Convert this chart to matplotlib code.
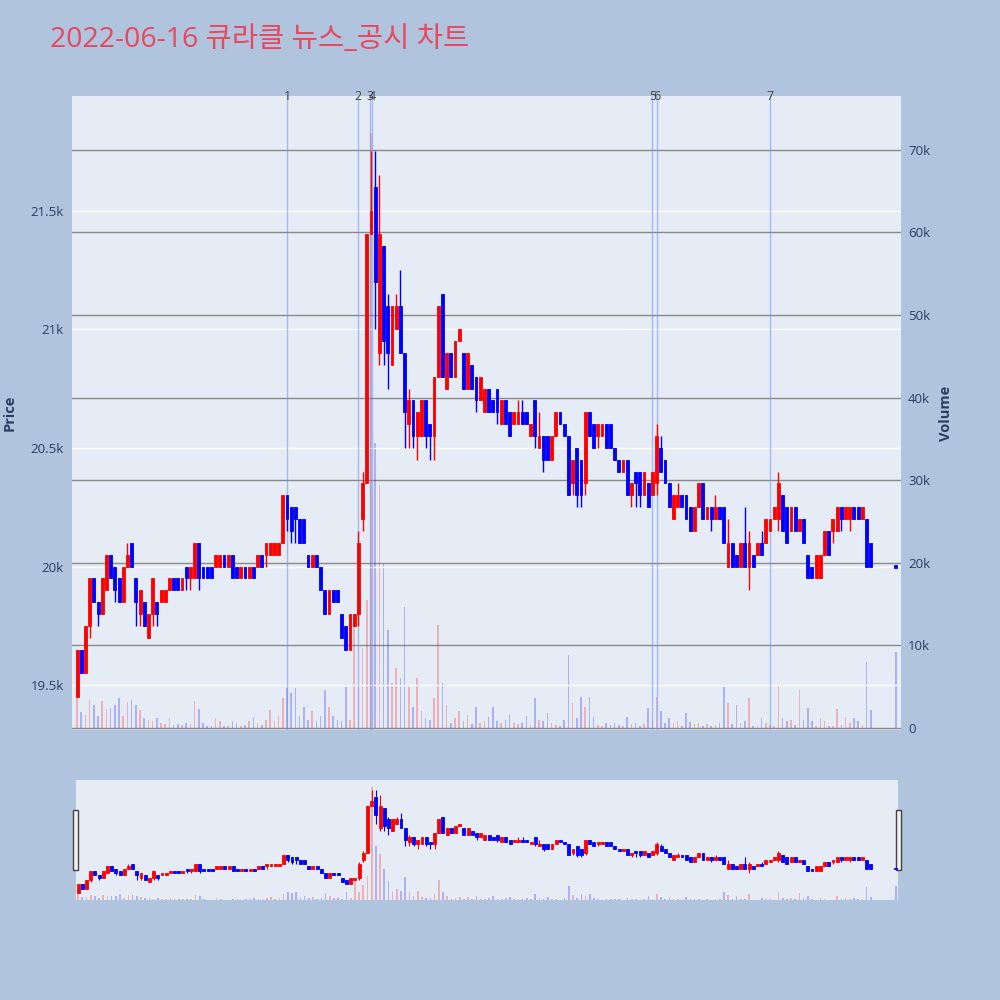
import numpy as np
import matplotlib.pyplot as plt
from matplotlib.patches import Rectangle
import matplotlib.transforms as mtransforms

plt.rcParams['font.family'] = ['Open Sans', 'Noto Sans CJK KR', 'DejaVu Sans']

title = "2022-06-16 큐라클 뉴스_공시 차트"

# minutes after 09:00 : one candle per 2 minutes, plus the 15:30 closing auction
minutes = list(range(0, 380, 2)) + [390]

opens = [
    19450, 19650, 19550, 19750, 19950, 19850, 19800, 19900, 20050, 20000,
    19950, 19850, 20000, 20100, 19950, 19800, 19850, 19700, 19800, 19850,
    19850, 19850, 19900, 19950, 19950, 19900, 20000, 19950, 19950, 20100,
    20000, 20000, 20000, 20000, 20000, 20050, 20000, 20050, 20000, 19950,
    20000, 19950, 20000, 20000, 20050, 20050, 20050, 20050, 20050, 20100,
    20300, 20250, 20250, 20200, 20200, 20050, 20000, 20050, 20000, 19900,
    19800, 19900, 19900, 19800, 19750, 19650, 19750, 19800, 20200, 20350,
    21400, 21600, 20900, 21350, 21100, 20850, 21000, 21100, 20900, 20600,
    20700, 20550, 20550, 20700, 20600, 20550, 20800, 21150, 20750, 20900,
    20800, 20950, 20900, 20750, 20850, 20800, 20700, 20650, 20750, 20700,
    20750, 20600, 20700, 20650, 20600, 20600, 20650, 20650, 20550, 20700,
    20500, 20550, 20550, 20450, 20550, 20650, 20600, 20550, 20350, 20500,
    20450, 20350, 20650, 20600, 20550, 20550, 20600, 20600, 20500, 20450,
    20400, 20450, 20300, 20400, 20400, 20300, 20350, 20300, 20350, 20500,
    20450, 20350, 20200, 20250, 20300, 20300, 20250, 20150, 20250, 20350,
    20200, 20250, 20200, 20250, 20250, 20000, 20100, 20050, 20000, 20100,
    20000, 20050, 20050, 20100, 20100, 20150, 20200, 20200, 20300, 20250,
    20150, 20250, 20150, 20200, 20050, 20000, 19950, 19950, 20050, 20150,
    20150, 20150, 20250, 20200, 20200, 20250, 20250, 20200, 20200, 20100,
    20000,
]

closes = [
    19650, 19550, 19750, 19950, 19850, 19800, 19950, 20050, 19950, 19900,
    19850, 20000, 20050, 20000, 19850, 19900, 19750, 19800, 19950, 19800,
    19900, 19900, 19950, 19900, 19900, 19950, 19950, 20000, 20100, 19950,
    19950, 19950, 19950, 20050, 20050, 20000, 20050, 19950, 19950, 20000,
    19950, 20000, 19950, 20050, 20000, 20100, 20100, 20100, 20100, 20300,
    20200, 20150, 20200, 20100, 20100, 20000, 20050, 20000, 19900, 19800,
    19900, 19850, 19850, 19700, 19650, 19800, 19800, 20100, 20350, 21400,
    21500, 21200, 21400, 20950, 20900, 21100, 21100, 20900, 20650, 20700,
    20550, 20650, 20700, 20550, 20550, 20800, 21100, 20800, 20900, 20800,
    20950, 21000, 20750, 20900, 20750, 20700, 20800, 20750, 20650, 20650,
    20650, 20700, 20600, 20550, 20650, 20650, 20600, 20600, 20600, 20550,
    20550, 20450, 20450, 20550, 20650, 20600, 20550, 20300, 20450, 20300,
    20300, 20650, 20550, 20500, 20600, 20600, 20500, 20500, 20450, 20400,
    20450, 20300, 20350, 20350, 20300, 20400, 20250, 20400, 20550, 20400,
    20350, 20250, 20300, 20300, 20250, 20200, 20150, 20250, 20350, 20200,
    20250, 20200, 20250, 20200, 20100, 20100, 20000, 20000, 20100, 20000,
    20100, 20000, 20100, 20050, 20200, 20200, 20250, 20350, 20150, 20100,
    20250, 20150, 20200, 20100, 19950, 19950, 20050, 20050, 20150, 20050,
    20200, 20250, 20200, 20250, 20250, 20200, 20200, 20250, 20000, 20000,
    20000,
]

# wick extremes (candle index -> price) where the wick sticks out of the body
highs = {12: 20100, 67: 20150, 68: 20400, 70: 21750, 71: 21750, 72: 21650,
         74: 21150, 76: 21150, 77: 21250, 79: 20750, 105: 20700, 106: 20700,
         110: 20650, 138: 20600, 139: 20550, 143: 20350, 152: 20300,
         155: 20200, 159: 20250, 160: 20150, 163: 20150, 167: 20400}
lows = {0: 19450, 3: 19700, 5: 19750, 9: 19850, 14: 19750, 15: 19750,
        18: 19750, 19: 19750, 26: 19900, 27: 19900, 29: 19900, 45: 20000,
        50: 20150, 51: 20100, 52: 20100, 67: 19750, 68: 20150, 71: 21000,
        72: 20850, 73: 20850, 74: 20750, 78: 20500, 79: 20500, 80: 20500,
        81: 20450, 83: 20500, 84: 20450, 85: 20450, 95: 20650, 100: 20600,
        109: 20500, 111: 20400, 118: 20300, 119: 20250, 120: 20250,
        121: 20300, 124: 20500, 132: 20250, 133: 20250, 134: 20250,
        138: 20300, 151: 20150, 160: 19900, 167: 20150, 180: 20100,
        182: 20150, 184: 20150}

# traded volume per candle, thousands of shares
volume_k = [
    3.6, 1.9, 1.6, 3.4, 2.8, 1.5, 3.3, 2.3, 2.4, 2.8,
    3.6, 1.5, 3.2, 3.4, 2.8, 2.2, 1.2, 1.0, 0.8, 1.2,
    0.6, 0.5, 1.2, 0.4, 0.5, 0.4, 0.6, 0.5, 3.3, 2.3,
    0.6, 0.2, 0.3, 1.2, 0.8, 0.3, 0.2, 0.9, 0.6, 0.3,
    0.4, 0.8, 1.3, 0.6, 0.4, 1.0, 2.2, 0.8, 1.5, 3.6,
    4.8, 4.2, 4.8, 1.5, 2.5, 1.0, 2.0, 0.8, 1.5, 4.6,
    2.5, 1.5, 1.0, 0.8, 5.0, 1.0, 12.5, 5.0, 9.7, 15.5,
    72.0, 34.5, 29.4, 20.0, 11.9, 5.5, 7.3, 6.0, 14.6, 5.0,
    2.5, 6.0, 2.0, 1.2, 1.0, 3.6, 12.5, 5.4, 2.8, 0.6,
    1.2, 2.0, 0.8, 1.6, 0.5, 2.5, 0.6, 0.8, 1.3, 2.6,
    0.8, 0.6, 1.0, 1.6, 0.6, 0.5, 0.6, 1.4, 0.4, 3.6,
    1.0, 0.8, 1.8, 0.6, 0.4, 0.3, 1.0, 8.8, 3.0, 1.2,
    3.7, 2.5, 3.7, 1.3, 0.4, 0.3, 0.6, 0.4, 0.6, 0.4,
    0.3, 1.3, 0.5, 0.6, 0.3, 0.5, 2.4, 0.8, 3.7, 2.0,
    0.6, 1.2, 0.6, 0.8, 0.3, 1.8, 0.7, 0.5, 0.6, 0.3,
    0.5, 0.3, 0.4, 0.6, 5.0, 3.0, 0.5, 2.8, 0.6, 0.8,
    3.6, 0.3, 0.3, 1.2, 0.6, 0.4, 0.3, 5.2, 1.2, 0.8,
    1.0, 0.4, 4.6, 1.0, 2.4, 0.8, 0.3, 1.2, 0.8, 0.3,
    0.3, 2.3, 0.4, 1.3, 0.6, 1.2, 0.8, 0.4, 8.0, 2.2,
    9.2,
]

# news / disclosure times (minutes after 09:00)
news_minutes = [100, 134, 139.5, 140.5, 274, 276, 330]
news_labels = ['1', '2', '3', '4', '5', '6', '7']

hour_ticks = [0, 60, 120, 180, 240, 300, 360]
hour_labels = ['09:00\nJun 16, 2022', '10:00', '11:00', '12:00', '13:00', '14:00', '15:00']
price_ticks = [19500, 20000, 20500, 21000, 21500]
price_labels = ['19.5k', '20k', '20.5k', '21k', '21.5k']
vol_ticks = [0, 10, 20, 30, 40, 50, 60, 70]
vol_labels = ['0', '10k', '20k', '30k', '40k', '50k', '60k', '70k']

BG = '#b0c4de'
PLOT_BG = '#e5ecf6'
TXT = '#2a3f5f'
UP = '#ff0000'
DOWN = '#0000ff'

x = np.array(minutes, dtype=float)
o = np.array(opens, dtype=float)
c = np.array(closes, dtype=float)
hi = np.maximum(o, c)
lo = np.minimum(o, c)
for k, v in highs.items():
    hi[k] = max(hi[k], v)
for k, v in lows.items():
    lo[k] = min(lo[k], v)
up = c > o
colors = np.where(up, UP, DOWN)
vol = np.array(volume_k)


def draw(axp, axv, body_w, wick_lw, vol_w):
    body = np.where(np.abs(c - o) < 1, 10, c - o)
    axp.vlines(x, lo, hi, colors=colors, lw=wick_lw, zorder=3)
    axp.bar(x, body, bottom=np.where(np.abs(c - o) < 1, o - 5, o), width=body_w,
            color=colors, edgecolor=colors, lw=0.6, zorder=4)
    axv.bar(x, vol, width=vol_w, color=colors, alpha=0.25, lw=0, zorder=2)


fig = plt.figure(figsize=(10, 10), dpi=100, facecolor=BG)

# main chart: volume axis behind, price axis on top
axv = fig.add_axes([0.072, 0.270, 0.829, 0.634])
ax = axv.twinx()
ax.set_zorder(axv.get_zorder() + 1)
ax.patch.set_visible(False)
axv.set_facecolor(PLOT_BG)

draw(ax, axv, 1.4, 1.0, 0.8)

ax.set_xlim(-2.4, 392.4)
ax.set_ylim(19311, 21983)
axv.set_ylim(-0.24, 76.5)

# price axis on the left, volume axis on the right
ax.yaxis.tick_left()
axv.yaxis.tick_right()
ax.set_yticks(price_ticks, price_labels)
axv.set_yticks(vol_ticks, vol_labels)
ax.set_xticks(hour_ticks, hour_labels)
axv.set_xticks(hour_ticks)
axv.tick_params(axis='x', labelbottom=False, length=0)
ax.tick_params(axis='both', length=0, labelsize=9.5, labelcolor=TXT, pad=6)
axv.tick_params(axis='y', length=0, labelsize=9.5, labelcolor=TXT, pad=5)
ax.grid(axis='y', color='white', lw=1)
axv.grid(axis='y', color='#8a8a8a', lw=1)
axv.grid(axis='x', visible=False)
ax.set_axisbelow(True)
for a in (ax, axv):
    for s in a.spines.values():
        s.set_visible(False)

trans = mtransforms.blended_transform_factory(ax.transData, ax.transAxes)
for m, lab in zip(news_minutes, news_labels):
    ax.axvline(m, color='#6f8ff2', lw=1, alpha=0.55, zorder=2)
    ax.text(m, 1.0, lab, transform=trans, ha='center', va='center',
            fontsize=9, color='#444444')

fig.text(0.050, 0.960, title, fontsize=20.5, color='#e8475f', va='center', ha='left')
fig.text(0.010, 0.587, 'Price', rotation=90, va='center', ha='center',
         fontsize=10.5, fontweight='bold', color=TXT)
fig.text(0.946, 0.587, 'Volume', rotation=90, va='center', ha='center',
         fontsize=10.5, fontweight='bold', color=TXT)

# range slider preview
sv = fig.add_axes([0.076, 0.100, 0.822, 0.120])
sp = sv.twinx()
sp.set_zorder(sv.get_zorder() + 1)
sp.patch.set_visible(False)
sv.set_facecolor(PLOT_BG)
draw(sp, sv, 1.4, 0.8, 0.8)
sv.set_xlim(-1, 391)
sp.set_ylim(19300, 21980)
sv.set_ylim(0, 76.5)
for a in (sv, sp):
    a.set_xticks([])
    a.set_yticks([])
    for s in a.spines.values():
        s.set_visible(False)

for hx in (0.073, 0.896):
    fig.add_artist(Rectangle((hx, 0.130), 0.005, 0.060, transform=fig.transFigure,
                             facecolor='#f2f2f2', edgecolor='#444444', lw=1))

fig.savefig('out.png', dpi=100, facecolor=BG)
